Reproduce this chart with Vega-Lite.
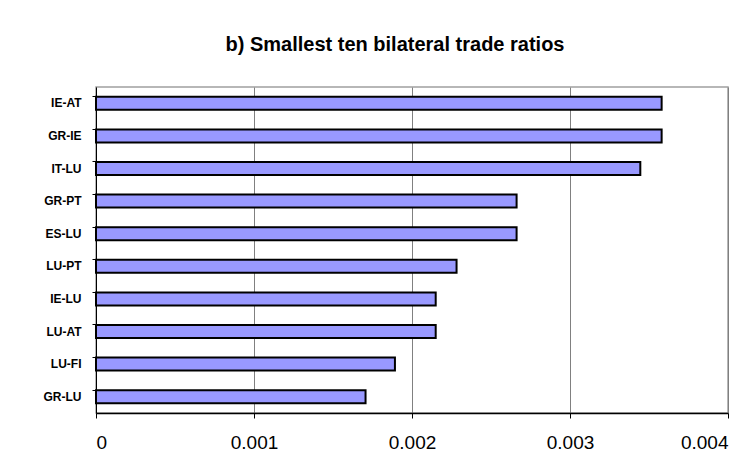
{
  "$schema": "https://vega.github.io/schema/vega-lite/v6.json",
  "width": 632,
  "height": 326,
  "autosize": "none",
  "padding": {"left": 96, "top": 87, "right": 26, "bottom": 57},
  "background": "white",
  "title": {
    "text": "b) Smallest ten bilateral trade ratios",
    "font": "Liberation Sans",
    "fontSize": 20,
    "fontWeight": "bold",
    "color": "black",
    "anchor": "middle",
    "frame": "group",
    "dx": -17,
    "offset": 32
  },
  "data": {
    "values": [
      {"pair": "IE-AT", "ratio": 0.00358},
      {"pair": "GR-IE", "ratio": 0.00358},
      {"pair": "IT-LU", "ratio": 0.003445},
      {"pair": "GR-PT", "ratio": 0.002662},
      {"pair": "ES-LU", "ratio": 0.002662},
      {"pair": "LU-PT", "ratio": 0.002282},
      {"pair": "IE-LU", "ratio": 0.00215},
      {"pair": "LU-AT", "ratio": 0.00215},
      {"pair": "LU-FI", "ratio": 0.001892},
      {"pair": "GR-LU", "ratio": 0.001706}
    ]
  },
  "mark": {"type": "bar", "fill": "#9999FF", "stroke": "black", "strokeWidth": 2},
  "encoding": {
    "y": {
      "field": "pair",
      "type": "nominal",
      "sort": null,
      "scale": {"paddingInner": 0.6, "paddingOuter": 0.3},
      "axis": {
        "title": null,
        "labelFont": "Liberation Sans",
        "labelFontSize": 12,
        "labelFontWeight": "bold",
        "labelColor": "black",
        "labelPadding": 11,
        "bandPosition": 0,
        "tickSize": 4,
        "tickColor": "black",
        "domainColor": "black",
        "domainWidth": 1,
        "grid": false
      }
    },
    "x": {
      "field": "ratio",
      "type": "quantitative",
      "scale": {"domain": [0, 0.004], "nice": false},
      "axis": {
        "title": null,
        "values": [0, 0.001, 0.002, 0.003, 0.004],
        "format": "~g",
        "labelFont": "Liberation Sans",
        "labelFontSize": 19,
        "labelColor": "black",
        "labelPadding": 15,
        "tickSize": 5,
        "tickColor": "black",
        "domainColor": "black",
        "domainWidth": 1.5,
        "grid": true,
        "gridColor": "#808080",
        "gridWidth": 1,
        "gridOpacity": 1
      }
    }
  },
  "config": {
    "view": {"stroke": "#a0a0a0", "strokeWidth": 1.5}
  }
}
